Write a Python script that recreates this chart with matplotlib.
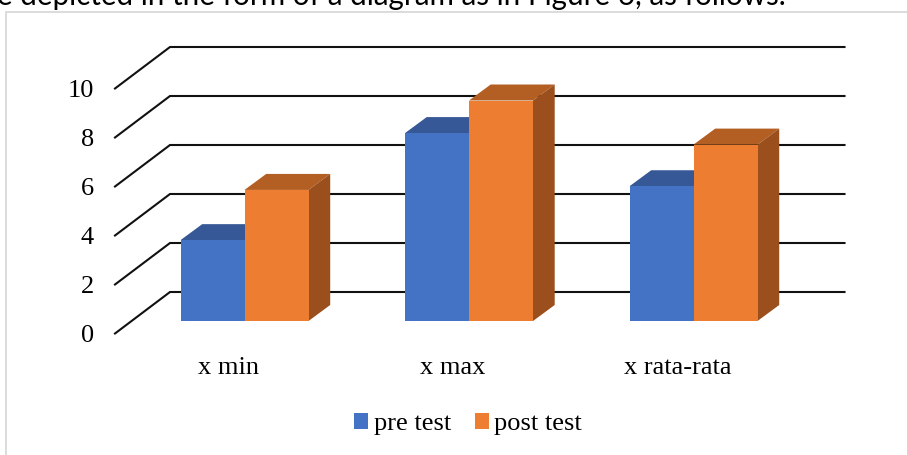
"""Clustered pseudo-3D column chart: pre test vs post test."""
import matplotlib
matplotlib.use("Agg")
import matplotlib.pyplot as plt
from matplotlib.patches import Patch, Polygon

categories = ["x min", "x max", "x rata-rata"]
pre_test = [3.3, 7.67, 5.5]
post_test = [5.35, 9.0, 7.2]
value_ticks = [0, 2, 4, 6, 8, 10]

W, H = 907, 455
CAT_PX = 224.5       # pixels per category
UNIT_PX = 24.5       # pixels per value unit
ORIGIN_X, ORIGIN_Y = 244.5, 321  # first category centre, value 0 on bar front

BAR_W = 64 / CAT_PX
DEPTH_X = 21.7 / CAT_PX
DEPTH_Y = 16 / UNIT_PX

BLUE = ("#4472C4", "#365896", "#2F4F86")
ORANGE = ("#ED7D31", "#B35E22", "#9A4F1C")

plt.rcParams["font.family"] = ["Liberation Serif"]

fig = plt.figure(figsize=(W / 100, H / 100), dpi=100)
ax = fig.add_axes([0, 0, 1, 1])
ax.set_xlim(-ORIGIN_X / CAT_PX, (W - ORIGIN_X) / CAT_PX)
ax.set_ylim(-(H - ORIGIN_Y) / UNIT_PX, ORIGIN_Y / UNIT_PX)
ax.axis("off")


def px(x, y):
    # figure pixel (top-left origin) to data coords, for page furniture only
    return (x - ORIGIN_X) / CAT_PX, (ORIGIN_Y - y) / UNIT_PX


def draw_bar(left, value, colors):
    right = left + BAR_W
    front = [(left, 0), (right, 0), (right, value), (left, value)]
    top = [(left, value), (right, value),
           (right + DEPTH_X, value + DEPTH_Y), (left + DEPTH_X, value + DEPTH_Y)]
    side = [(right, 0), (right + DEPTH_X, DEPTH_Y),
            (right + DEPTH_X, value + DEPTH_Y), (right, value)]
    for pts, c in zip((top, side, front), (colors[1], colors[2], colors[0])):
        ax.add_patch(Polygon(pts, closed=True, facecolor=c, edgecolor="none", zorder=3))


# page furniture behind the chart
x0, y0 = px(5.5, 455)
x1, y1 = px(5.5, 11.5)
x2, _ = px(907, 11.5)
ax.plot([x0, x1, x2], [y0, y1, y1], color="#DCDCDC", lw=1.4, zorder=1,
        solid_joinstyle="miter")
tx, ty = px(-3, 4.5)
ax.text(tx, ty, "e depicted in the form of a diagram as in Figure 6, as follows.",
        family="Lato", fontsize=21.3, color="#000000", ha="left", va="baseline")

# gridlines with the slanted floor/wall return
front_dx, front_dy = -(244.5 - 115) / CAT_PX, -12.5 / UNIT_PX
back_dx, back_dy = -(244.5 - 170) / CAT_PX, 29 / UNIT_PX
end_x = (844.5 - ORIGIN_X) / CAT_PX
for v in value_ticks:
    ax.plot([front_dx, back_dx, end_x], [v + front_dy, v + back_dy, v + back_dy],
            color="#111111", lw=1.5, zorder=2, solid_joinstyle="miter")
    ax.text(front_dx - 21 / CAT_PX, v + front_dy, str(v), fontsize=19,
            ha="right", va="center_baseline", color="black")

for i, cat in enumerate(categories):
    draw_bar(i - BAR_W, pre_test[i], BLUE)
    draw_bar(i, post_test[i], ORANGE)
    ax.text(i - 16 / CAT_PX, -44 / UNIT_PX, cat, fontsize=19,
            ha="center", va="center_baseline", color="black")

handles = [Patch(facecolor=BLUE[0], label="pre test"),
           Patch(facecolor=ORANGE[0], label="post test")]
ax.legend(handles=handles, loc="center", bbox_to_anchor=(468 / W, 1 - 424 / H),
          ncol=2, frameon=False, fontsize=19, handlelength=0.55, handleheight=0.55,
          handletextpad=0.2, columnspacing=0.9, borderpad=0)

fig.savefig("out.png", dpi=100)
